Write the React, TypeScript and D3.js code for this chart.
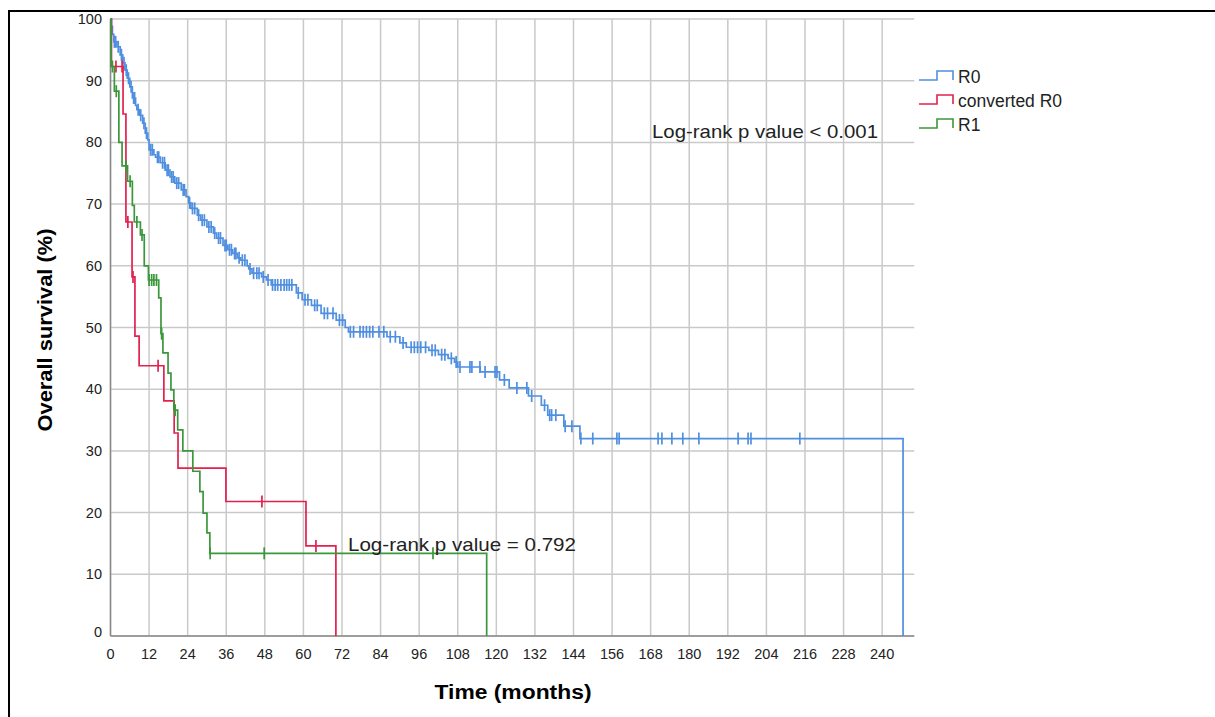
import React from "react";
import * as d3 from "d3";

// ---------- data ----------
const xTicks = [0, 12, 24, 36, 48, 60, 72, 84, 96, 108, 120, 132, 144, 156, 168, 180, 192, 204, 216, 228, 240];
const yTicks = [0, 10, 20, 30, 40, 50, 60, 70, 80, 90, 100];

const r0Times = [0.3, 0.6, 1.0, 2.0, 3.0, 3.8, 4.5, 5.2, 6.0, 6.8, 7.8, 8.2, 9.0, 10.0, 10.8, 11.6, 12.0, 13.5, 14.0, 15.5, 17.0, 18.5, 20.0, 22.0, 23.5, 24.3, 25.0, 27.0, 28.0, 30.0, 32.0, 33.0, 35.0, 36.5, 38.0, 39.5, 40.5, 42.5, 43.0, 44.0, 47.0, 48.5, 50.0, 57.8, 59.6, 62.5, 65.5, 70.2, 73.0, 74.0, 86.0, 90.0, 92.0, 99.0, 102.0, 105.0, 107.0, 108.0, 115.0, 121.0, 124.0, 130.0, 134.0, 136.0, 141.0, 146.0, 246.5];
const r0Surv = [98.8, 97.5, 96.3, 95.5, 94.2, 92.9, 91.7, 90.4, 89.0, 87.2, 86.0, 85.3, 84.4, 83.1, 81.5, 80.4, 78.8, 78.0, 77.6, 76.7, 75.5, 74.4, 73.4, 72.3, 71.2, 70.2, 69.3, 68.2, 67.4, 66.3, 65.3, 64.5, 63.3, 62.6, 62.0, 61.3, 60.9, 60.0, 59.5, 58.8, 58.2, 57.7, 56.9, 55.6, 54.5, 53.6, 52.3, 51.2, 50.0, 49.3, 48.5, 47.5, 46.8, 46.3, 45.6, 45.0, 44.4, 43.6, 42.8, 41.5, 40.2, 38.9, 37.4, 35.8, 34.0, 32.0, 0];
const r0Censor = [1.2, 1.6, 2.4, 3.4, 4.2, 4.9, 5.6, 6.4, 7.2, 7.5, 8.6, 9.4, 10.4, 11.2, 12.5, 13.0, 14.6, 15.0, 16.2, 16.8, 17.6, 18.0, 19.0, 19.5, 20.6, 21.2, 22.6, 23.0, 24.6, 25.5, 26.2, 27.4, 28.5, 29.2, 30.6, 31.3, 32.4, 33.6, 34.2, 35.6, 36.0, 37.0, 37.6, 38.6, 39.0, 40.0, 41.0, 41.8, 43.4, 44.5, 45.5, 46.2, 47.5, 49.0, 50.4, 51.2, 52.0, 53.0, 54.0, 54.8, 55.6, 56.4, 58.4, 60.5, 61.4, 63.5, 64.3, 66.5, 67.5, 69.2, 71.2, 72.2, 74.6, 75.6, 77.6, 78.6, 79.6, 80.6, 81.6, 83.5, 85.0, 87.0, 88.6, 91.0, 93.5, 94.5, 95.5, 96.5, 98.0, 100.0, 101.0, 103.0, 104.0, 106.0, 107.5, 108.7, 111.8, 112.4, 114.9, 116.5, 119.6, 120.2, 122.5, 126.4, 129.5, 131.0, 135.0, 136.6, 137.2, 138.5, 141.4, 143.5, 146.3, 150.0, 157.5, 158.2, 170.3, 171.5, 174.6, 178.0, 183.0, 195.2, 198.3, 199.2, 214.4];

const convTimes = [0.3, 3.9, 4.8, 6.7, 7.6, 8.9, 16.6, 19.8, 21.0, 35.9, 60.8, 70.1];
const convSurv = [92.3, 84.6, 67.1, 58.2, 48.6, 43.8, 38.1, 32.9, 27.2, 21.8, 14.6, 0];
const convCensor = [1.7, 3.6, 5.4, 7.0, 14.8, 47.1, 63.9];

const r1Times = [0.2, 1.2, 2.6, 3.6, 5.3, 6.8, 7.4, 9.3, 10.5, 11.8, 15.0, 15.7, 16.3, 17.9, 18.8, 19.7, 20.9, 22.5, 25.6, 27.8, 28.8, 30.0, 30.9, 117.0];
const r1Surv = [92.3, 88.3, 80.0, 76.2, 73.7, 69.8, 67.1, 65.0, 60.0, 57.7, 54.8, 49.0, 45.9, 42.6, 39.9, 36.6, 33.4, 30.0, 26.7, 23.4, 19.9, 16.7, 13.4, 0];
const r1Censor = [0.6, 1.8, 4.8, 6.1, 8.2, 9.8, 12.0, 12.8, 13.5, 14.3, 15.9, 20.1, 31.0, 47.8, 100.3];

const seriesNames = ["R0", "converted R0", "R1"];
const seriesColors = ["#4f8fe0", "#e3204f", "#3b973b"];

// ---------- helpers ----------
const x = d3.scaleLinear().domain([0, 250]).range([110.5, 914.3]);
const y = d3.scaleLinear().domain([0, 100]).range([636, 19]);

function buildPoints(times: number[], surv: number[]) {
  const pts = [{ t: 0, s: 100 }];
  times.forEach((t, i) => pts.push({ t, s: surv[i] }));
  return pts;
}
function survAt(times: number[], surv: number[], t: number) {
  let s = 100;
  for (let i = 0; i < times.length; i++) {
    if (times[i] <= t) s = surv[i];
  }
  return s;
}
const line = d3
  .line<{ t: number; s: number }>()
  .x((d) => x(d.t))
  .y((d) => y(d.s))
  .curve(d3.curveStepAfter);

const series = [
  { times: r0Times, surv: r0Surv, censor: r0Censor },
  { times: convTimes, surv: convSurv, censor: convCensor },
  { times: r1Times, surv: r1Surv, censor: r1Censor },
];

export default function App() {
  const font = "'Liberation Sans', Arial, sans-serif";
  return (
    <svg
      width={1215}
      height={717}
      style={{ position: "absolute", left: 0, top: 0, background: "#fff" }}
      fontFamily={font}
    >
      <rect x={0} y={0} width={1215} height={717} fill="#fff" />
      {/* outer frame */}
      <line x1={9} y1={11} x2={1215} y2={11} stroke="#000" strokeWidth={2} />
      <line x1={9} y1={10} x2={9} y2={717} stroke="#000" strokeWidth={2} />

      {/* grid */}
      {xTicks.map((t) => (
        <line key={"gx" + t} x1={x(t)} x2={x(t)} y1={y(100)} y2={y(0)} stroke="#c9c9c9" strokeWidth={1.5} />
      ))}
      {yTicks.map((v) => (
        <line key={"gy" + v} x1={x(0)} x2={x(250)} y1={y(v)} y2={y(v)} stroke="#c9c9c9" strokeWidth={1.5} />
      ))}
      {/* axes */}
      <line x1={x(0)} x2={x(0)} y1={y(100)} y2={y(0)} stroke="#8a8a8a" strokeWidth={1.5} />
      <line x1={x(0)} x2={x(250)} y1={y(0)} y2={y(0)} stroke="#8a8a8a" strokeWidth={1.5} />

      {/* tick labels */}
      {yTicks.map((v) => (
        <text key={"ty" + v} x={102} y={y(v) + (v === 0 ? 1 : 5)} textAnchor="end" fontSize={14.5} fill="#222">
          {v}
        </text>
      ))}
      {xTicks.map((t) => (
        <text key={"tx" + t} x={x(t)} y={659} textAnchor="middle" fontSize={14.5} fill="#222">
          {t}
        </text>
      ))}

      {/* axis titles */}
      <text x={513} y={699} textAnchor="middle" fontSize={20} fontWeight="bold" fill="#000" textLength={157} lengthAdjust="spacingAndGlyphs">
        Time (months)
      </text>
      <text
        transform="translate(52,330) rotate(-90)"
        textAnchor="middle"
        fontSize={20}
        fontWeight="bold"
        fill="#000"
        textLength={203}
        lengthAdjust="spacingAndGlyphs"
      >
        Overall survival (%)
      </text>

      {/* curves */}
      {series.map((sr, i) => (
        <g key={"s" + i}>
          <path d={line(buildPoints(sr.times, sr.surv)) || ""} fill="none" stroke={seriesColors[i]} strokeWidth={1.7} />
          {sr.censor.map((c, j) => {
            const cx = x(c);
            const cy = y(survAt(sr.times, sr.surv, c));
            return (
              <line key={j} x1={cx} x2={cx} y1={cy - 6} y2={cy + 6} stroke={seriesColors[i]} strokeWidth={1.7} />
            );
          })}
        </g>
      ))}

      {/* annotations */}
      <text x={652} y={138} fontSize={19} fill="#222" textLength={226} lengthAdjust="spacingAndGlyphs">
        Log-rank p value &lt; 0.001
      </text>
      <text x={348} y={551} fontSize={19} fill="#222" textLength={228} lengthAdjust="spacingAndGlyphs">
        Log-rank p value = 0.792
      </text>

      {/* legend */}
      {seriesNames.map((n, i) => {
        const yc = 77 + i * 24;
        return (
          <g key={"lg" + i}>
            <path
              d={`M919,${yc + 3}H937V${yc - 6}H953V${yc + 3}`}
              fill="none"
              stroke={seriesColors[i]}
              strokeWidth={1.6}
            />
            <text x={958} y={yc + 6} fontSize={17.5} fill="#222">
              {n}
            </text>
          </g>
        );
      })}
    </svg>
  );
}
